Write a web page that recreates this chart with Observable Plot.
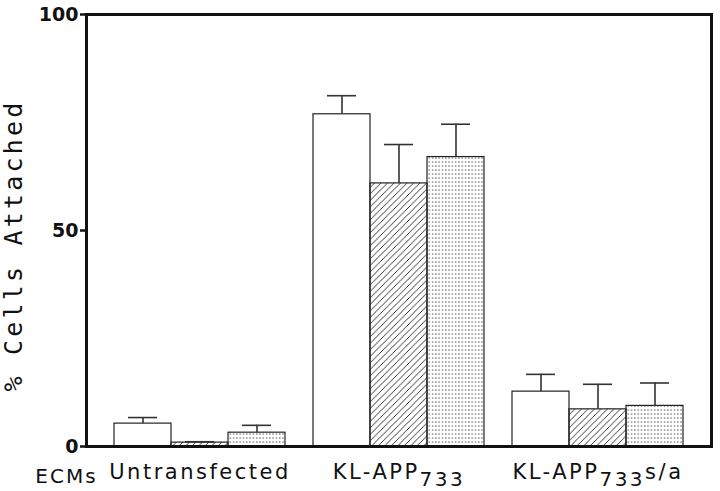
<!DOCTYPE html>
<html><head><meta charset="utf-8">
<script src="https://cdn.jsdelivr.net/npm/d3@7"></script>
<script src="https://cdn.jsdelivr.net/npm/@observablehq/plot@0.6"></script>
<style>body{margin:0;background:#fff}</style>
</head><body><div id="chart"></div>
<script>
const groups = ["Untransfected", "KL-APP733", "KL-APP733s/a"];
const series = ["open", "hatched", "dotted"];
const openMeans = [5.3, 76.9, 12.7];
const openErr = [6.7, 81.2, 16.7];
const hatchedMeans = [0.9, 60.9, 8.6];
const hatchedErr = [1.1, 69.9, 14.4];
const dottedMeans = [3.2, 67.0, 9.4];
const dottedErr = [4.9, 74.6, 14.7];
const yTicks = [0, 50, 100];

const meansBy = {open: openMeans, hatched: hatchedMeans, dotted: dottedMeans};
const errBy = {open: openErr, hatched: hatchedErr, dotted: dottedErr};
const data = [];
groups.forEach((g, i) => series.forEach(s => data.push({group: g, series: s, value: meansBy[s][i], err: errBy[s][i]})));
const fills = {open: "white", hatched: "url(#hatch)", dotted: "url(#dots)"};
const mono = "DejaVu Sans Mono";

const chart = Plot.plot({
  width: 720, height: 491,
  marginLeft: 113, marginRight: 36, marginTop: 14, marginBottom: 45,
  style: {fontFamily: "DejaVu Sans", color: "#111", background: "white"},
  fx: {domain: groups, paddingInner: 0.14, paddingOuter: 0, label: null},
  x: {domain: series, padding: 0, axis: null},
  y: {domain: [0, 100], axis: null},
  marks: [
    ...series.map(s => Plot.barY(data.filter(d => d.series === s), {fx: "group", x: "series", y: "value", fill: fills[s], stroke: "#222", strokeWidth: 1.2})),
    Plot.ruleX(data, {fx: "group", x: "series", y1: "value", y2: "err", stroke: "#333", strokeWidth: 1.6}),
    Plot.tickY(data, {fx: "group", x: "series", y: "err", stroke: "#333", strokeWidth: 1.6, insetLeft: 14, insetRight: 14}),
    Plot.frame({facet: "super", stroke: "#111", strokeWidth: 3, insetLeft: -28, insetRight: -28}),
    Plot.axisY({ticks: yTicks, dx: -28, tickSize: 6, tickPadding: 2, strokeWidth: 2.5, fontSize: 19, fontWeight: "bold", label: "% Cells Attached", labelAnchor: "center", labelOffset: 110, labelArrow: "none"}),
    Plot.axisFx({anchor: "bottom", tickSize: 0, tickPadding: 18, fontSize: 21, label: null}),
    Plot.text(["ECMs"], {facet: "super", frameAnchor: "bottom-left", lineAnchor: "middle", textAnchor: "middle", dx: -48, dy: 30, fontSize: 20})
  ]
});
document.getElementById("chart").appendChild(chart);

const svg = d3.select(chart.tagName.toLowerCase() === "svg" ? chart : chart.querySelector("svg"));
const defs = svg.insert("defs", ":first-child");
const h = defs.append("pattern").attr("id", "hatch").attr("patternUnits", "userSpaceOnUse").attr("width", 6.5).attr("height", 6.5);
h.append("path").attr("d", "M0,6.5 L6.5,0 M-1,1 L1,-1 M5.5,7.5 L7.5,5.5").attr("stroke", "#222").attr("stroke-width", 0.9).attr("fill", "none");
const p = defs.append("pattern").attr("id", "dots").attr("patternUnits", "userSpaceOnUse").attr("width", 3.3).attr("height", 4);
p.append("rect").attr("x", 1).attr("y", 1.5).attr("width", 1.1).attr("height", 1.1).attr("fill", "#222");

svg.selectAll("g[aria-label='y-axis label'] text")
  .style("font-size", "25px").style("font-weight", "normal").style("font-family", mono)
  .attr("letter-spacing", 3.2).attr("dx", -15);
svg.selectAll("g[aria-label='fx-axis tick label'] text").attr("letter-spacing", 2.5).each(function() {
  const t = this.textContent;
  const m = t.match(/^(.*?)(733)(.*)$/);
  if (!m) return;
  const el = d3.select(this);
  el.text(null);
  el.append("tspan").text(m[1]);
  el.append("tspan").attr("font-size", 20).attr("dy", 7).text(m[2]);
  if (m[3]) el.append("tspan").attr("dy", -7).text(m[3]);
});
svg.selectAll("g[aria-label='text'] text").attr("letter-spacing", 2);
</script>
</body></html>
